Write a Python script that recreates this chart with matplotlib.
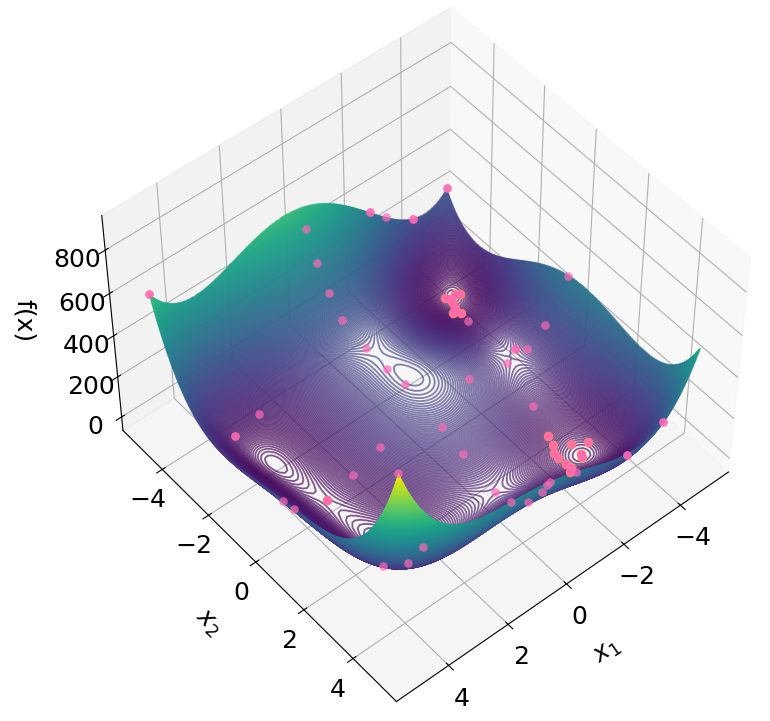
import numpy as np
import matplotlib
matplotlib.use('Agg')
import matplotlib.pyplot as plt

# Himmelblau test surface, as drawn by the contours of the reference
grid = np.linspace(-5, 5, 100)
X, Y = np.meshgrid(grid, grid)
Z = (X**2 + Y - 11)**2 + (X + Y**2 - 7)**2

x1_samples = [3.97, 3.97, 0.04, 1.55, 0.05, 2.44, 5.00, 4.99, 4.53, 3.36, 3.84, 3.88, 4.08,
              -4.21, -3.34, -3.34, -3.55, -2.86, -2.59, -3.85, -3.85, -2.61, -2.61,
              0.05, 0.11, 0.11, 0.06, 1.36, 0.44,
              -5.00, -5.00, -2.29, -2.29, -2.84, -3.79, -3.79, 0.05, 0.01, 0.03, 0.01, -1.55, -3.34,
              5.00, 5.00, 0.05, 0.04, 0.04, 3.10, -5.00, -0.83]
x2_samples = [-3.04, -3.04, 0.78, 0.03, 1.62, 0.01, 5.00, 0.31, 0.16, 0.04, 4.53, 3.97, 3.22,
              0.01, -0.22, -0.22, 0.03, 0.01, 1.38, 5.00, 5.00, 5.00, 5.00,
              5.00, 4.95, 4.79, 2.93, 5.00, 4.62,
              -5.00, -5.00, -5.00, -5.00, -5.00, -5.00, -5.00, -3.33, -2.39, -1.51, -0.79, 0.01, -2.14,
              -5.00, -5.00, -4.79, -4.38, -3.90, -3.14, -0.02, 5.00]
f_samples = [42, 42, 145, 103, 106, 46, 890, 205, 99, 13, 368, 225, 134,
             171, 106, 106, 114, 105, 68, 278, 278, 237, 237,
             362, 347, 295, 68, 392, 258,
             250, 250, 363, 363, 293, 205, 205, 222, 181, 179, 179, 147, 37,
             610, 610, 504, 385, 290, 56, 339, 323]

# points gathered near two of the minima, with the orange marks under them
x1_cluster = [-3.56, -3.64, -3.61, -3.88, -3.96, -3.52, -3.31, -3.47,
              -2.40, -2.36, -2.22, -2.21, -2.24, -2.27, -2.11, -2.81, -3.20, -2.81, -2.75, 3.36]
x2_cluster = [-3.35, -3.26, -3.08, -3.30, -3.21, -2.88, -2.74, -2.60,
              2.21, 2.48, 2.69, 2.86, 3.12, 3.30, 3.45, 2.68, 2.95, 3.10, 3.20, 0.04]
f_cluster = [3, 1, 2, 1, 3, 7, 16, 16,
             29, 19, 15, 12, 9, 9, 17, 7, 7, 0, 2, 13]

TICKS = [-4, -2, 0, 2, 4]
Z_TICKS = [0, 200, 400, 600, 800]

fig = plt.figure(figsize=(7.7, 7.21), dpi=100)
ax = fig.add_axes([0.06, 0.026, 0.958, 0.958], projection='3d')
ax.computed_zorder = False
ax.contour3D(X, Y, Z, 500, cmap='viridis', alpha=0.65, linewidths=1.3, zorder=1)
ax.scatter(x1_cluster, x2_cluster, f_cluster, color='orange', s=46, depthshade=False,
           alpha=1, linewidths=0, zorder=3)
ax.scatter(x1_cluster, x2_cluster, f_cluster, color='hotpink', s=42, depthshade=False,
           alpha=0.9, linewidths=0, zorder=4)
ax.scatter(x1_samples, x2_samples, f_samples, color='hotpink', s=38, depthshade=False,
           alpha=0.7, linewidths=0, zorder=4)
ax.view_init(elev=50, azim=50)
ax.set_zlim(-69, 956)
ax.set_xlabel('$x_1$', fontsize=18, labelpad=16)
ax.set_ylabel('$x_2$', fontsize=18, labelpad=16)
ax.zaxis.set_rotate_label(False)
ax.set_zlabel('f(x)', fontsize=18, labelpad=16, rotation=270)
ax.set_xticks(TICKS)
ax.set_yticks(TICKS)
ax.set_zticks(Z_TICKS)
ax.tick_params(labelsize=18)
fig.savefig('out.png', dpi=100)
